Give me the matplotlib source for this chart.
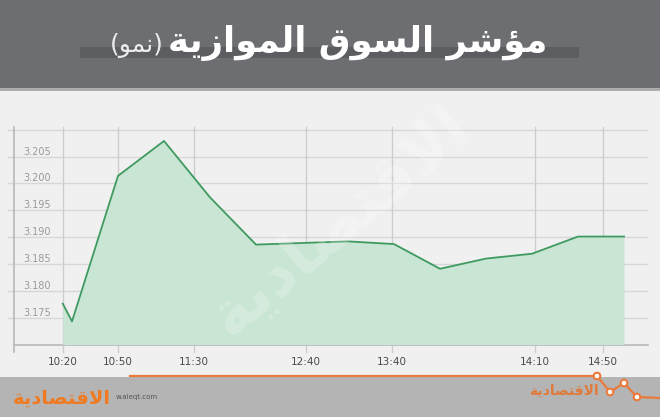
import matplotlib
matplotlib.use("Agg")
import matplotlib.pyplot as plt
from matplotlib.patches import Rectangle, Circle

# data (x in evenly spaced sample slots)
x_slots = [-0.2, 0, 1, 2, 3, 4, 6, 7, 8, 9, 10, 11, 12]
index_vals = [3.1776, 3.1743, 3.2014, 3.2079, 3.1974, 3.1886, 3.1892,
              3.1887, 3.1841, 3.1860, 3.1869, 3.1901, 3.1901]
tick_slots = [-0.2, 1.0, 2.65, 5.09, 6.96, 10.07, 11.55]
tick_labels = ["10:20", "10:50", "11:30", "12:40", "13:40", "14:10", "14:50"]
y_ticks = [3.175, 3.180, 3.185, 3.190, 3.195, 3.200, 3.205]
y_grid = y_ticks + [3.210]

# arabic text, pre-shaped (presentation forms) in visual order
title_main = ("\uFE94\uFEF3\uFEAF\uFE8D\uFEEE\uFEE4\uFEDF\uFE8D "
              "\uFED5\uFEEE\uFEB4\uFEDF\uFE8D "
              "\uFEAE\uFEB7\uFE86\uFEE3")
title_sub = "(\uFEEE\uFEE4\uFEE7)"
logo = "\uFE94\uFEF3\uFEA9\uFE8E\uFEBC\uFE98\uFED7\uFEFB\uFE8D"

W, H = 660, 417
fig = plt.figure(figsize=(6.6, 4.17), dpi=100)
fig.patch.set_facecolor("#f0f0f0")

# decoration layer in pixel coordinates
bg = fig.add_axes([0, 0, 1, 1], zorder=0)
bg.set_xlim(0, W)
bg.set_ylim(H, 0)
bg.axis("off")
bg.add_patch(Rectangle((0, 0), W, 88, color="#6d6e72", lw=0))
bg.plot([0, W], [89, 89], color="#a9a9ab", lw=2)
bg.add_patch(Rectangle((80, 47), 499, 11, color="#5c5d61", lw=0))
bg.text(358, 43, title_main, color="white", fontsize=25.5, fontweight="bold",
        ha="center", va="center", family="DejaVu Sans")
bg.text(137, 45, title_sub, color="#ececec", fontsize=18,
        ha="center", va="center", family="DejaVu Sans")

orange = "#ea7a3c"
bg.add_patch(Rectangle((0, 377), W, 40, color="#b4b4b4", lw=0))
zx = [130, 597, 610, 624, 637, 660]
zy = [376, 376, 392, 383, 397, 398]
bg.plot(zx, zy, color=orange, lw=1.6)
for cx, cy in zip(zx[1:5], zy[1:5]):
    bg.add_patch(Circle((cx, cy), 3.3, facecolor="white", edgecolor=orange, lw=1.5, zorder=3))
bg.text(62, 398, logo, color="#f07a22", fontsize=14, fontweight="bold",
        ha="center", va="center", family="DejaVu Sans")
bg.text(116, 397, "w.aleqt.com", color="#555555", fontsize=5, ha="left", va="center")
bg.text(564, 391, logo, color="#e07a3a", fontsize=10, fontweight="bold",
        ha="center", va="center", family="DejaVu Sans")

# main chart
ax = fig.add_axes([8 / W, (H - 344.5) / H, 640 / W, (344.5 - 127) / H], zorder=1)
ax.set_facecolor("none")
x_left, x_axis = (8 - 72) / 46, (14 - 72) / 46
ax.set_xlim(x_left, (648 - 72) / 46)
ax.set_ylim(3.170, 3.2105)
for s in ax.spines.values():
    s.set_visible(False)
ax.set_xticks([])
ax.set_yticks([])

for yv in y_grid:
    ax.axhline(yv, color="#d7d7d7", lw=1, zorder=1)
y_low = 3.170 - 7.5 / 26.85 * 0.005
for xs in tick_slots:
    ax.plot([xs, xs], [y_low, 3.2105], color="#cdcdcd", lw=1, zorder=1, clip_on=False)
ax.plot([x_axis, x_axis], [y_low, 3.2105], color="#b8b8b8", lw=1.2, zorder=2, clip_on=False)
ax.plot([x_axis, (648 - 72) / 46], [3.170, 3.170], color="#b8b8b8", lw=1.2, zorder=2, clip_on=False)

ax.fill_between(x_slots, index_vals, 3.170, color="#c9e5d4", lw=0, zorder=3)
ax.plot(x_slots, index_vals, color="#3f9a60", lw=1.3, zorder=4)

for yv in y_ticks:
    ax.text((37 - 72) / 46, yv, f"{yv:.3f}", color="#9a9a9a", fontsize=7,
            ha="center", va="bottom", zorder=5)
y_lab = 3.170 - (362 - 344.5) / 26.85 * 0.005
for xs, lab in zip(tick_slots, tick_labels):
    ax.text(xs, y_lab, lab, color="#4a4a4a", fontsize=7.5, ha="center",
            va="center", clip_on=False)

# faint watermark over the fill
fig.text(0.515, 0.47, logo, color="white", alpha=0.22, fontsize=46,
         fontweight="bold", rotation=40, ha="center", va="center",
         family="DejaVu Sans", zorder=5)

fig.savefig("out.png", dpi=100, facecolor=fig.get_facecolor())
